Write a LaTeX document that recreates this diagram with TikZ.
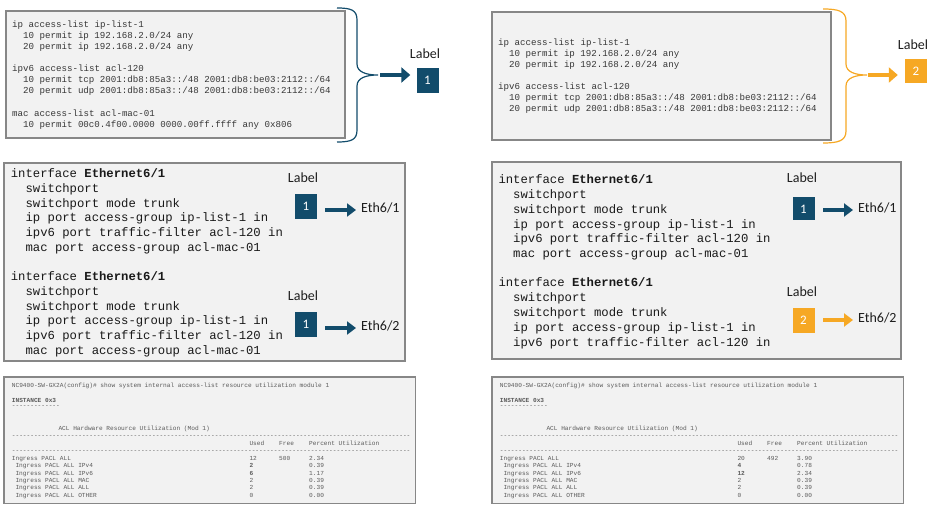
\documentclass[tikz,border=0pt]{standalone}
\usepackage{fontspec}
\setmainfont{Carlito}
\setmonofont{Liberation Mono}
\usetikzlibrary{arrows.meta}
\definecolor{cblue}{RGB}{18,76,107}
\definecolor{corange}{RGB}{246,168,36}
\definecolor{panelfill}{RGB}{242,242,242}
\definecolor{panelline}{RGB}{135,135,135}
\definecolor{topcodec}{RGB}{55,55,55}
\definecolor{midcodec}{RGB}{25,25,25}
\definecolor{botcodec}{RGB}{90,90,90}
\definecolor{labelc}{RGB}{30,30,30}

\tikzset{
  panel/.style={draw=panelline, fill=panelfill, line width=1.3pt},
  topcode/.style={font=\ttfamily\fontsize{9.15}{11}\selectfont, text=topcodec, anchor=base west, inner sep=0pt},
  midcode/.style={font=\ttfamily\fontsize{12.25}{14}\selectfont, text=midcodec, anchor=base west, inner sep=0pt},
  botcode/.style={font=\ttfamily\fontsize{6.15}{7}\selectfont, text=botcodec, anchor=base west, inner sep=0pt},
  lbltext/.style={font=\fontsize{14}{16}\selectfont, text=labelc, inner sep=0pt},
  ethtext/.style={font=\fontsize{14}{16}\selectfont, text=labelc, anchor=west, inner sep=0pt},
  numbox/.style={fill=#1, minimum width=22pt, minimum height=25pt, inner sep=0pt, text=white, font=\fontsize{13}{15}\selectfont},
  bracepath/.style={draw=#1, line width=1.2pt},
  bigarrow/.style={draw=#1, line width=4.2pt, -{Triangle[length=9pt,width=15pt]}},
  midarrow/.style={draw=#1, line width=3.3pt, -{Triangle[length=9pt,width=13pt]}},
}

\newcommand\dashrow[1]{\foreach \k in {1,...,#1}{-}}

\newcommand\utilpanel[3]{%
\begin{scope}[xshift=#2, name prefix=#1]
  \draw[panel, line width=1.1pt] (4,377) rectangle (415.5,503.5);
  \node[botcode] (cmd) at (11.7,387.1) {NC9400-SW-GX2A(config)\# show system internal access-list resource utilization module 1};
  \node[botcode] (inst) at (11.7,402.1) {\textbf{INSTANCE 0x3}};
  \node[botcode] (instline) at (11.7,407.7) {\dashrow{13}};
  \node[botcode] (title) at (58.3,430.5) {ACL Hardware Resource Utilization (Mod 1)};
  \node[botcode] (dashA) at (11.7,437.2) {\dashrow{108}};
  \node[botcode] (hUsed) at (249.3,445.8) {Used};
  \node[botcode] (hFree) at (279,445.8) {Free};
  \node[botcode] (hPct) at (309,445.8) {Percent Utilization};
  \node[botcode] (dashB) at (11.7,452.7) {\dashrow{108}};
  \foreach \t [count=\i] in {Ingress PACL ALL, Ingress PACL ALL IPv4, Ingress PACL ALL IPv6, Ingress PACL ALL MAC, Ingress PACL ALL ALL, Ingress PACL ALL OTHER}{
    \pgfmathsetmacro\xx{\i==1 ? 11.7 : 15.35}
    \node[botcode] (r\i) at (\xx, {460.3+7.36*(\i-1)}) {\t};
  }
  \foreach \u/\f/\p [count=\i] in {#3}{
    \node[botcode] (u\i) at (249.3, {460.3+7.36*(\i-1)}) {\u};
    \node[botcode] (f\i) at (279, {460.3+7.36*(\i-1)}) {\f};
    \node[botcode] (p\i) at (309, {460.3+7.36*(\i-1)}) {\p};
  }
\end{scope}}

\begin{document}
\begin{tikzpicture}[x=1pt,y=-1pt]
\useasboundingbox (0,0) rectangle (936,510);

% ---------------- top left ----------------
\draw[panel] (6,11) rectangle (345,138);
\node[topcode] (tl1) at (12,27.7) {ip access-list ip-list-1};
\node[topcode] (tl2) at (22.9,38.7) {10 permit ip 192.168.2.0/24 any};
\node[topcode] (tl3) at (22.9,49.7) {20 permit ip 192.168.2.0/24 any};
\node[topcode] (tl4) at (12,71.7) {ipv6 access-list acl-120};
\node[topcode] (tl5) at (22.9,82.7) {10 permit tcp 2001:db8:85a3::/48 2001:db8:be03:2112::/64};
\node[topcode] (tl6) at (22.9,93.7) {20 permit udp 2001:db8:85a3::/48 2001:db8:be03:2112::/64};
\node[topcode] (tl7) at (12,116.7) {mac access-list acl-mac-01};
\node[topcode] (tl8) at (22.9,127.7) {10 permit 00c0.4f00.0000 0000.00ff.ffff any 0x806};

\draw[bracepath=cblue] (337,8) .. controls (351,8) and (357,10) .. (357,20) -- (357,64)
  .. controls (357,72) and (366,75) .. (378,75) .. controls (366,75) and (357,78) .. (357,86)
  -- (357,130) .. controls (357,140) and (351,142) .. (337,142);
\coordinate (tlTip) at (378,75);
\node[lbltext] (tlLabel) at (425,54) {Label};
\node[numbox=cblue] (tlBox) at (427.5,80.5) {1};
\draw[bigarrow=cblue, shorten <=2pt, shorten >=6pt] (tlTip) -- (tlBox.west |- tlTip);

% ---------------- top right ----------------
\draw[panel] (492,12) rectangle (831,140);
\node[topcode] (tr1) at (498,46) {ip access-list ip-list-1};
\node[topcode] (tr2) at (508.9,57) {10 permit ip 192.168.2.0/24 any};
\node[topcode] (tr3) at (508.9,67.7) {20 permit ip 192.168.2.0/24 any};
\node[topcode] (tr4) at (498,90) {ipv6 access-list acl-120};
\node[topcode] (tr5) at (508.9,101) {10 permit tcp 2001:db8:85a3::/48 2001:db8:be03:2112::/64};
\node[topcode] (tr6) at (508.9,111.7) {20 permit udp 2001:db8:85a3::/48 2001:db8:be03:2112::/64};

\draw[bracepath=corange] (823,9) .. controls (838,9) and (846,11) .. (846,21) -- (846,64)
  .. controls (846,72) and (855,75) .. (867,75) .. controls (855,75) and (846,78) .. (846,86)
  -- (846,131) .. controls (846,141) and (838,143) .. (823,143);
\coordinate (trTip) at (867,75);
\node[lbltext] (trLabel) at (913,45) {Label};
\node[numbox=corange, minimum height=24pt] (trBox) at (916,71) {2};
\draw[bigarrow=corange, shorten <=1pt, shorten >=7pt] (trTip) -- (trBox.west |- trTip);

% ---------------- middle left ----------------
\draw[panel] (4,163) rectangle (405,361);
\node[midcode] (mlA0) at (10.7,177.7) {interface \textbf{Ethernet6/1}};
\foreach \t [count=\i] in {switchport, switchport mode trunk, ip port access-group ip-list-1 in, ipv6 port traffic-filter acl-120 in, mac port access-group acl-mac-01}
  \node[midcode] (mlA\i) at (25.4, {177.7+14.7*\i}) {\t};
\node[midcode] (mlB0) at (10.7,280.4) {interface \textbf{Ethernet6/1}};
\foreach \t [count=\i] in {switchport, switchport mode trunk, ip port access-group ip-list-1 in, ipv6 port traffic-filter acl-120 in, mac port access-group acl-mac-01}
  \node[midcode] (mlB\i) at (25.4, {280.4+14.8*\i}) {\t};

\node[lbltext] (ml1Label) at (303,178) {Label};
\node[numbox=cblue] (ml1Box) at (306,206.5) {1};
\node[ethtext] (ml1Eth) at (361,208) {Eth6/1};
\coordinate (ml1S) at (325,210);
\coordinate (ml1E) at (356,210);
\draw[midarrow=cblue] (ml1S) -- (ml1E);

\node[lbltext] (ml2Label) at (303,296) {Label};
\node[numbox=cblue] (ml2Box) at (306,324.5) {1};
\node[ethtext] (ml2Eth) at (361,326) {Eth6/2};
\coordinate (ml2S) at (325,328);
\coordinate (ml2E) at (356,328);
\draw[midarrow=cblue] (ml2S) -- (ml2E);

% ---------------- middle right ----------------
\draw[panel] (492,162) rectangle (901,359);
\node[midcode] (mrA0) at (498.3,183.7) {interface \textbf{Ethernet6/1}};
\foreach \t [count=\i] in {switchport, switchport mode trunk, ip port access-group ip-list-1 in, ipv6 port traffic-filter acl-120 in, mac port access-group acl-mac-01}
  \node[midcode] (mrA\i) at (513, {183.7+14.8*\i}) {\t};
\node[midcode] (mrB0) at (498.3,287) {interface \textbf{Ethernet6/1}};
\foreach \t [count=\i] in {switchport, switchport mode trunk, ip port access-group ip-list-1 in, ipv6 port traffic-filter acl-120 in}
  \node[midcode] (mrB\i) at (513, {287+14.75*\i}) {\t};

\node[lbltext] (mr1Label) at (802,178) {Label};
\node[numbox=cblue, minimum height=23pt] (mr1Box) at (803.5,209) {1};
\node[ethtext] (mr1Eth) at (858,208) {Eth6/1};
\coordinate (mr1S) at (823,210);
\coordinate (mr1E) at (853,210);
\draw[midarrow=cblue] (mr1S) -- (mr1E);

\node[lbltext] (mr2Label) at (802,292) {Label};
\node[numbox=corange] (mr2Box) at (803.5,320.5) {2};
\node[ethtext] (mr2Eth) at (858,318) {Eth6/2};
\coordinate (mr2S) at (823,320);
\coordinate (mr2E) at (853,320);
\draw[midarrow=corange] (mr2S) -- (mr2E);

% ---------------- bottom ----------------
\utilpanel{L-}{0pt}{12/500/2.34, \textbf{2}//0.39, \textbf{6}//1.17, 2//0.39, 2//0.39, 0//0.00}
\utilpanel{R-}{488pt}{20/492/3.90, \textbf{4}//0.78, \textbf{12}//2.34, 2//0.39, 2//0.39, 0//0.00}
\end{tikzpicture}
\end{document}
